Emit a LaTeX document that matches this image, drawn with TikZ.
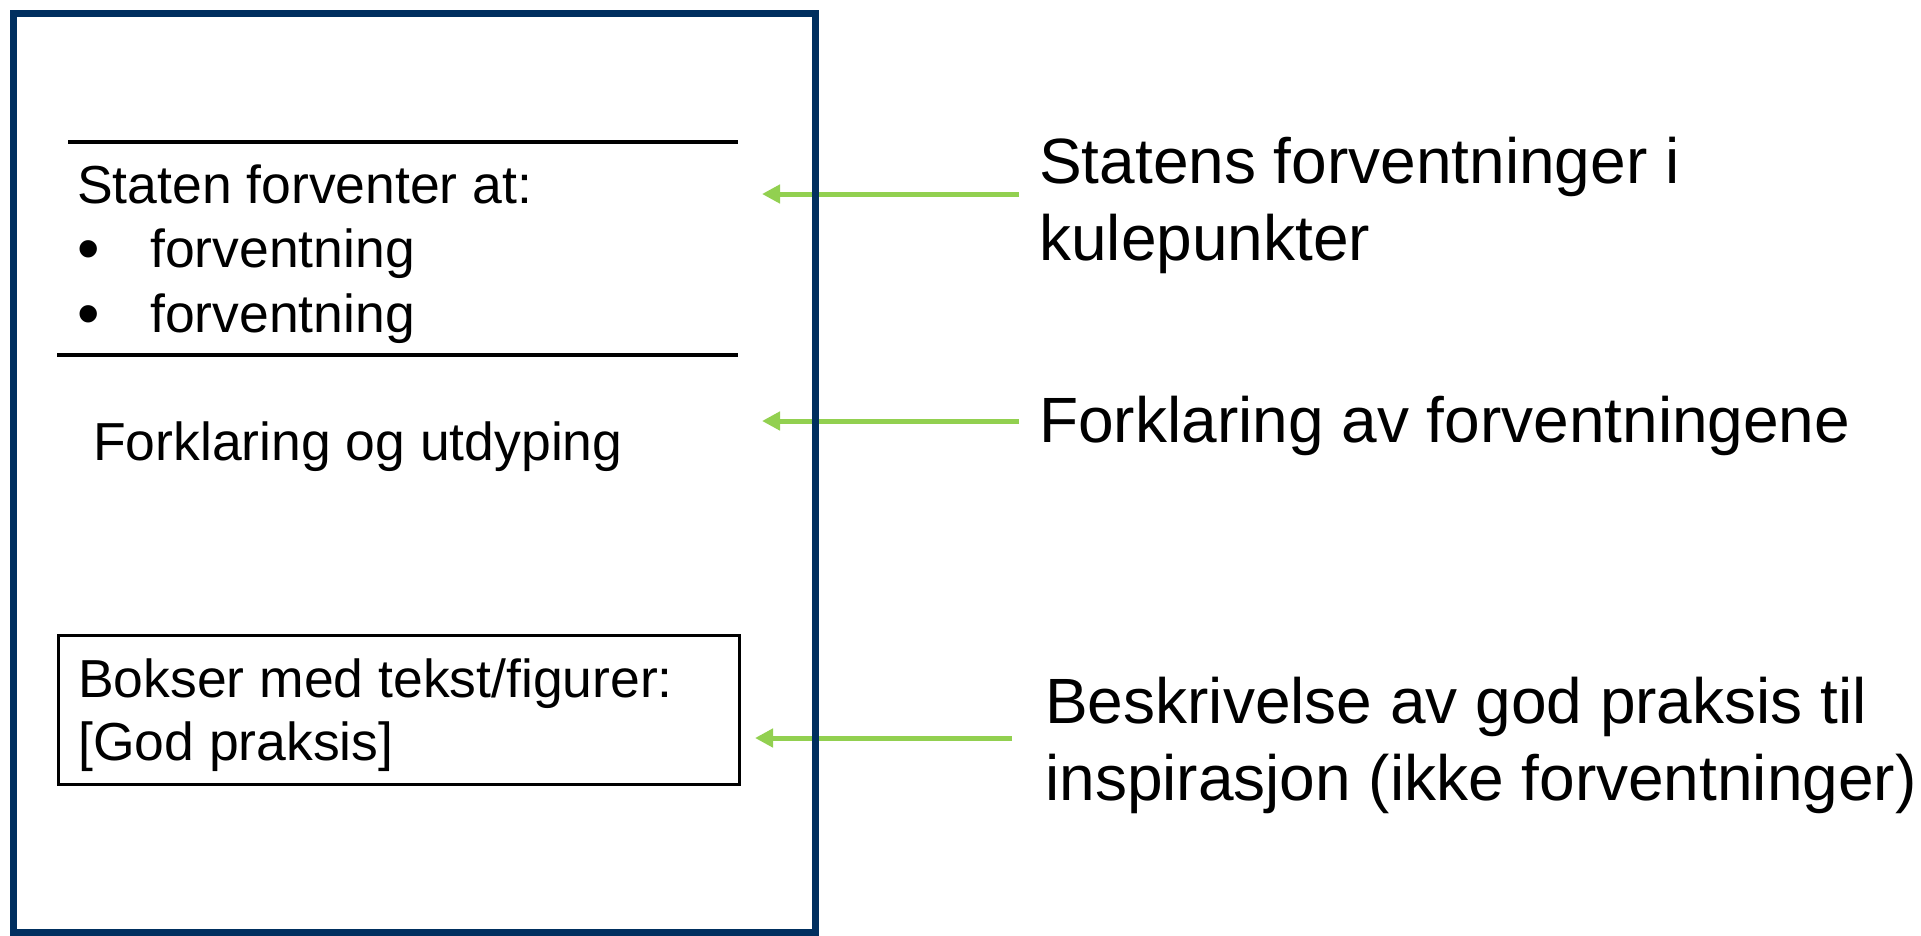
\documentclass[tikz,border=0pt]{standalone}
\usepackage{fontspec}
\setmainfont{Liberation Sans}
\usetikzlibrary{arrows.meta}
\definecolor{pageblue}{RGB}{0,47,95}
\definecolor{arrowgreen}{RGB}{146,208,80}
\newcommand{\pagefont}{\fontsize{53.5}{64}\selectfont}
\newcommand{\dotfont}{\fontsize{64}{64}\selectfont}
\newcommand{\notefont}{\fontsize{64}{76}\selectfont}

\begin{document}
\begin{tikzpicture}[x=1pt, y=-1pt,
  pagetext/.style={anchor=base west, inner sep=0pt, font=\pagefont},
  notetext/.style={anchor=base west, inner sep=0pt, font=\notefont},
  pointer/.style={arrowgreen, line width=5pt, -{Triangle[length=18pt,width=18pt]}},
  divider/.style={line width=4pt}]
\useasboundingbox (0,0) rectangle (1921,935);

% Expectation section
\draw[divider] (68,142) -- (738,142);
\node[pagetext] (intro) at (77,203) {Staten forventer at:};
\node[pagetext, font=\dotfont] (dot1) at (77,270) {\textbullet};
\node[pagetext] (item1) at (150,267) {forventning};
\node[pagetext, font=\dotfont] (dot2) at (77,335) {\textbullet};
\node[pagetext] (item2) at (150,332) {forventning};
\draw[divider] (57,355) -- (738,355);

% Explanation
\node[pagetext] (explain) at (93,460) {Forklaring og utdyping};

% Practice box
\draw[line width=3pt] (58,635) rectangle (739,784);
\node[pagetext] (box1) at (78,697) {Bokser med tekst/figurer:};
\node[pagetext] (box2) at (78,760) {[God praksis]};

% Notes on the right
\node[notetext] (noteA1) at (1039,183) {Statens forventninger i};
\node[notetext] (noteA2) at (1039,260) {kulepunkter};
\node[notetext] (noteB) at (1039,442) {Forklaring av forventningene};
\node[notetext] (noteC1) at (1045,723) {Beskrivelse av god praksis til};
\node[notetext] (noteC2) at (1045,800) {inspirasjon (ikke forventninger)};

% Pointers
\coordinate (tailA) at (1019,194);
\coordinate (tipA) at (762,194);
\coordinate (tailB) at (1019,421);
\coordinate (tipB) at (762,421);
\coordinate (tailC) at (1012,738);
\coordinate (tipC) at (755,738);
\draw[pointer] (tailA) -- (tipA);
\draw[pointer] (tailB) -- (tipB);
\draw[pointer] (tailC) -- (tipC);

% Page outline
\draw[pageblue, line width=7pt] (13,13) rectangle (815,932);
\end{tikzpicture}
\end{document}
